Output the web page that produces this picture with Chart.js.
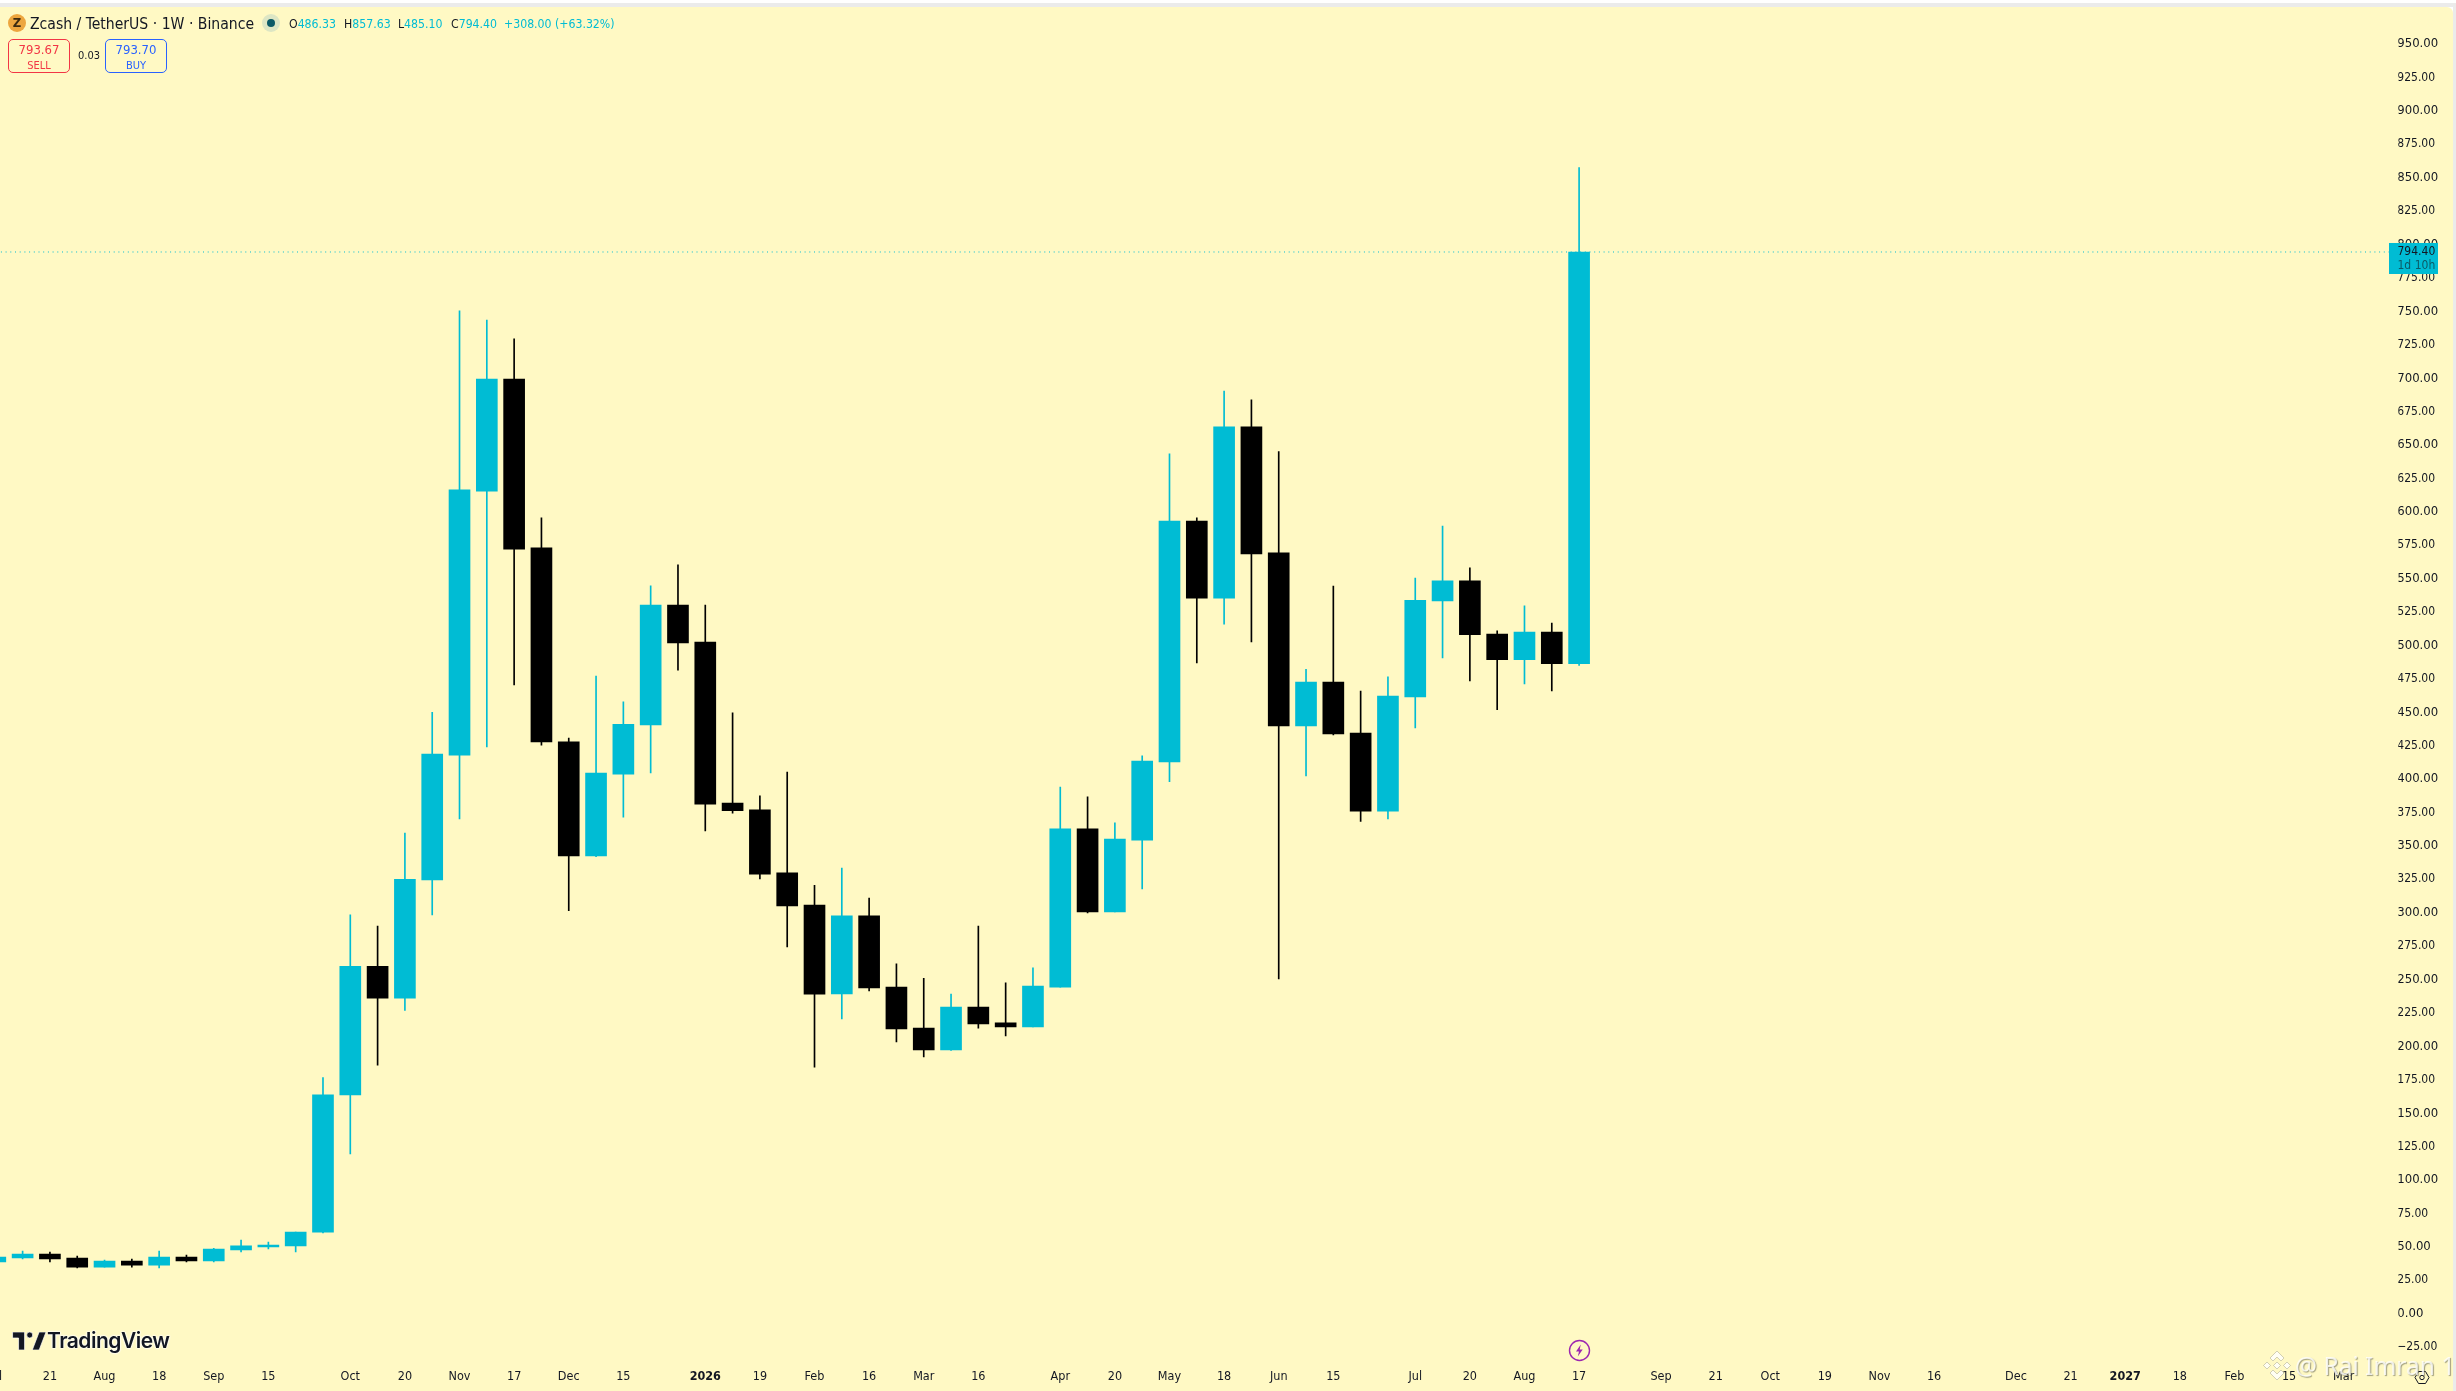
<!doctype html>
<html lang="en">

<head>
  <meta charset="utf-8">
  <title>Zcash / TetherUS 1W</title>
  <style>
    * {
      margin: 0;
      padding: 0;
      box-sizing: border-box;
    }

    html,
    body {
      width: 2456px;
      height: 1391px;
      overflow: hidden;
      background: #fff;
      font-family: "DejaVu Sans Condensed", "DejaVu Sans", sans-serif;
    }

    .strip {
      position: absolute;
      top: 3px;
      left: 0;
      width: 2456px;
      height: 4px;
      background: #ebebeb;
    }

    .panel {
      position: absolute;
      top: 7px;
      left: 0;
      width: 2453px;
      height: 1384px;
      background: #FFF9C4;
      border-top-right-radius: 6px;
    }

    .side {
      position: absolute;
      top: 3px;
      left: 2453px;
      width: 3px;
      height: 1388px;
      background: #ebebeb;
    }

    #priceChart {
      position: absolute;
      left: -32px;
      top: 0;
    }

    .abs {
      position: absolute;
      white-space: nowrap;
    }

    .title {
      left: 30px;
      top: 14px;
      font-size: 15.6px;
      line-height: 20px;
      color: #131722;
    }

    .ohlc {
      top: 15px;
      font-size: 12.2px;
      line-height: 18px;
      color: #00BCD4;
    }

    .ohlc b {
      font-weight: normal;
      color: #131722;
    }

    .coin {
      left: 8px;
      top: 14px;
      width: 18px;
      height: 18px;
      border-radius: 50%;
      background: #EDA63F;
      color: #3b2a10;
      font-size: 13px;
      font-weight: bold;
      line-height: 18px;
      text-align: center;
    }

    .status {
      left: 262px;
      top: 14px;
      width: 18px;
      height: 18px;
      border-radius: 50%;
      background: #DDE6C4;
    }

    .status i {
      position: absolute;
      left: 5px;
      top: 5px;
      width: 8px;
      height: 8px;
      border-radius: 50%;
      background: #0B5A66;
    }

    .trade {
      top: 39px;
      width: 62px;
      height: 34px;
      border: 1px solid;
      border-radius: 5px;
      text-align: center;
      font-size: 13px;
      line-height: 18px;
      padding-top: 1px;
    }

    .trade span {
      display: block;
      font-size: 11px;
      line-height: 14px;
    }

    .sell {
      left: 8px;
      color: #F23645;
    }

    .buy {
      left: 105px;
      color: #2962FF;
    }

    .spread {
      left: 78px;
      top: 48px;
      font-size: 11px;
      line-height: 16px;
      color: #131722;
    }

    .brand {
      left: 47px;
      top: 1327px;
      font-family: "Inter", sans-serif;
      font-size: 21px;
      line-height: 28px;
      font-weight: 600;
      letter-spacing: -0.5px;
      color: #131722;
      text-shadow: 0 0 2px #fff, 0 0 2px #fff, 0 0 2px #fff;
    }

    .logo {
      left: 10px;
      top: 1332px;
    }

    .mark {
      left: 2295px;
      top: 1349px;
      font-family: "Noto Sans", sans-serif;
      font-size: 24.5px;
      line-height: 34px;
      color: rgba(255, 255, 255, 0.8);
      text-shadow: 1px 1px 1px rgba(110, 110, 90, 0.65);
    }
  </style>
</head>

<body>
  <div class="strip"></div>
  <div class="panel"></div>
  <div class="side"></div>
  <canvas id="priceChart" width="2488" height="1391"></canvas>

  <div class="abs coin">Z</div>
  <div class="abs title">Zcash / TetherUS · 1W · Binance</div>
  <div class="abs status"><i></i></div>
  <div class="abs ohlc" style="left:289px"><b>O</b>486.33</div>
  <div class="abs ohlc" style="left:344px"><b>H</b>857.63</div>
  <div class="abs ohlc" style="left:398px"><b>L</b>485.10</div>
  <div class="abs ohlc" style="left:451px"><b>C</b>794.40</div>
  <div class="abs ohlc" style="left:504px">+308.00</div>
  <div class="abs ohlc" style="left:555px">(+63.32%)</div>
  <div class="abs trade sell">793.67<span>SELL</span></div>
  <div class="abs spread">0.03</div>
  <div class="abs trade buy">793.70<span>BUY</span></div>

  <svg class="abs logo" width="36" height="18" viewBox="0 0 36 21">
    <path fill="#131722" stroke="#fff" stroke-width="0.8" d="M14 0H0v7h7v14h7V0zm17 21h-8l8-21h8l-8 21zM20 7a3.5 3.5 0 1 0 0-7 3.5 3.5 0 0 0 0 7z" />
  </svg>
  <div class="abs brand">TradingView</div>

  <svg class="abs" style="left:1568px;top:1339px" width="23" height="23" viewBox="0 0 23 23">
    <circle cx="11.5" cy="11.5" r="10" fill="none" stroke="#9C27B0" stroke-width="1.4" />
    <path fill="#9C27B0" d="M12.8 5.5 8 12.6h3l-1.2 5 4.9-7.2h-3z" />
  </svg>

  <svg class="abs" style="left:2412px;top:1367px" width="20" height="21" viewBox="0 0 20 21">
    <path fill="none" stroke="#131722" d="M3 10.5 6.5 4.5h7L17 10.5 13.5 16.5h-7z" />
    <circle cx="10" cy="10.5" r="2.2" fill="none" stroke="#131722" />
  </svg>

  <svg class="abs" style="left:2262px;top:1350px" width="30" height="31" viewBox="0 0 30 31">
    <g fill="rgba(255,255,255,0.8)" stroke="rgba(110,110,90,0.45)" stroke-width="0.7">
      <path d="M15 1l7 7-3 3-4-4-4 4-3-3z" />
      <path d="M15 30l7-7-3-3-4 4-4-4-3 3z" />
      <path d="M5 12l3.500 3.500L5 19l-3.500-3.500zM25 12l3.500 3.500L25 19l-3.500-3.500zM15 12l3.500 3.500L15 19l-3.500-3.500z" />
    </g>
  </svg>
  <div class="abs mark">@ Rai Imran 1</div>

  <script src="https://cdn.jsdelivr.net/npm/chart.js@4"></script>
  <script>
    const green = '#00BCD4';
    const black = '#000000';
    const ink = '#131722';

    // one label per week, left edge of the picture to the price scale
    const weeks = [
      '', 'Jul', '', '21', '', 'Aug', '', '18', '', 'Sep', '', '15', '', '',
      'Oct', '', '20', '', 'Nov', '', '17', '', 'Dec', '', '15', '', '', '2026', '', '19', '',
      'Feb', '', '16', '', 'Mar', '', '16', '', '', 'Apr', '', '20', '', 'May', '', '18', '',
      'Jun', '', '15', '', '', 'Jul', '', '20', '', 'Aug', '', '17', '', '', 'Sep', '', '21', '',
      'Oct', '', '19', '', 'Nov', '', '16', '', '', 'Dec', '', '21', '', '2027', '', '18', '',
      'Feb', '', '15', '', 'Mar', '', ''
    ];

    const opens = [
      null, 38.7, 41.7, 44.7, 41.7, 34.9, 39.4, 36.4, 42.4, 39.4, 47.7, 49.9, 50.7, 61, 163.7,
      260, 236, 324.5, 418, 615.4, 699.3, 573, 427.8, 342.5, 403.7, 440.5, 530.3, 502.6, 382, 377,
      329.8, 305.8, 239.2, 297.7, 244.4, 213.7, 197.4, 229.5, 217.7, 214.5, 244.4, 362.8, 300.6, 354.4, 412.8,
      593.1, 535.4, 663.6, 569.3, 439.8, 472.6, 434.5, 376.1, 461.5, 533.3, 548.4, 508.6, 489.3, 510, 486.33
    ];
    const highs = [
      null, 43, 46.9, 46.2, 43.2, 40.2, 40.9, 46.9, 43.9, 48.9, 55.1, 53.6, 61, 176.6, 298.4,
      290, 359.6, 450, 750.4, 743.4, 729.4, 595.4, 430.7, 477, 457.8, 544.6, 560.3, 530.3, 449.5, 387.4,
      405.3, 320.6, 333.4, 311, 261.7, 251, 239.2, 290, 247.6, 258.7, 394, 386.7, 367.2, 417.4, 643.3,
      595.4, 690.4, 683.7, 645, 482.2, 544.5, 465.9, 476.5, 550.5, 589.4, 558, 511, 529.7, 516.8, 857.63
    ];
    const lows = [
      null, 37.5, 40.9, 38.7, 34.2, 34.9, 34.9, 34.2, 38.7, 38.7, 46.2, 48.4, 46.2, 60.4, 119.5,
      186, 227, 298.4, 370.3, 424, 470.5, 425.4, 301.5, 341.9, 371.6, 404.6, 481.5, 361.3, 374.6, 325.3,
      274.4, 184.5, 220.5, 241.5, 203.3, 192.2, 197, 213.7, 207.8, 214.5, 244.4, 299.8, 300.6, 317.9, 398,
      486.9, 516, 502.6, 250.4, 402.4, 433, 368.4, 370.2, 438.3, 490.6, 473.5, 451.9, 471.2, 465.9, 485.1
    ];
    const closes = [
      null, 42.4, 44.7, 40.9, 34.9, 39.4, 36.4, 42.4, 39.4, 48.4, 50.7, 51.4, 61, 163.7, 260,
      236, 325.1, 418.7, 616.5, 699.3, 572, 427.8, 342.5, 404.6, 441, 530.3, 501.9, 381.3, 376.3, 328.8,
      305.1, 239, 297.7, 243.7, 213, 197.4, 229.5, 216.8, 214.5, 245.2, 362.8, 300.6, 355.2, 413.5, 593.1,
      535.4, 663.6, 568.4, 439.8, 472.6, 433.8, 376.1, 462.2, 533.8, 548.4, 508, 489.3, 510, 486.3, 794.4
    ];

    const priceTicks = [
      950, 925, 900, 875, 850, 825, 800, 775, 750, 725, 700, 675, 650, 625, 600, 575, 550, 525, 500, 475,
      450, 425, 400, 375, 350, 325, 300, 275, 250, 225, 200, 175, 150, 125, 100, 75, 50, 25, 0, -25
    ];

    const lastClose = 794.4;
    const timeLeft = '1d 10h';

    const tickFont = '"DejaVu Sans Condensed", "DejaVu Sans", sans-serif';
    const colors = opens.map((o, i) => (closes[i] >= o ? green : black));

    // last price line and its box on the scale
    const lastPrice = {
      id: 'lastPrice',
      afterDraw(chart) {
        const { ctx, scales: { y }, chartArea } = chart;
        const py = y.getPixelForValue(lastClose);
        const boxLeft = 2421;
        ctx.save();
        ctx.strokeStyle = green;
        ctx.setLineDash([1, 3.7]);
        ctx.lineWidth = 1;
        ctx.beginPath();
        ctx.moveTo(chartArea.left, py);
        ctx.lineTo(boxLeft, py);
        ctx.stroke();
        ctx.setLineDash([]);
        ctx.fillStyle = green;
        ctx.fillRect(boxLeft, py - 9, 49, 31);
        ctx.font = '12px ' + tickFont;
        ctx.textBaseline = 'middle';
        ctx.fillStyle = ink;
        ctx.fillText(lastClose.toFixed(2), 2429.5, py);
        ctx.fillStyle = '#0B5A66';
        ctx.fillText(timeLeft, 2429.5, py + 14);
        ctx.restore();
      }
    };

    new Chart(document.getElementById('priceChart'), {
      type: 'bar',
      data: {
        labels: weeks,
        datasets: [{
          data: lows.map((l, i) => (l === null ? null : [l, highs[i]])),
          backgroundColor: colors,
          barThickness: 1,
          grouped: false,
          order: 2
        }, {
          data: opens.map((o, i) => (o === null ? null : [o, closes[i]])),
          backgroundColor: colors,
          barThickness: 21,
          grouped: false,
          order: 1
        }]
      },
      options: {
        responsive: false,
        animation: false,
        layout: { padding: { top: 8, left: 0, right: 0, bottom: 0 } },
        plugins: { legend: { display: false }, tooltip: { enabled: false } },
        scales: {
          x: {
            type: 'category',
            offset: false,
            grid: { display: false, drawTicks: false },
            border: { display: false },
            afterFit(axis) {
              axis.height = 36;
              axis.paddingLeft = 0;
              axis.paddingRight = 0;
            },
            ticks: {
              autoSkip: false,
              maxRotation: 0,
              padding: 14,
              color: ink,
              font: ctx => ({
                family: tickFont,
                size: 12.5,
                weight: /^20\d\d$/.test(weeks[ctx.index]) ? 'bold' : 'normal'
              })
            }
          },
          y: {
            position: 'right',
            min: -30.9,
            max: 976.96,
            grid: { display: false, drawTicks: false },
            border: { display: false },
            afterFit(axis) { axis.width = 57.7; },
            afterBuildTicks(axis) { axis.ticks = priceTicks.map(v => ({ value: v })); },
            ticks: {
              padding: -1,
              color: ink,
              font: ctx => ({
                family: tickFont,
                size: ctx.tick && ctx.tick.value % 50 === 0 ? 13 : 12
              }),
              callback: v => (v < 0 ? '\u2212' : '') + Math.abs(v).toFixed(2)
            }
          }
        }
      },
      plugins: [lastPrice]
    });
  </script>
</body>

</html>
